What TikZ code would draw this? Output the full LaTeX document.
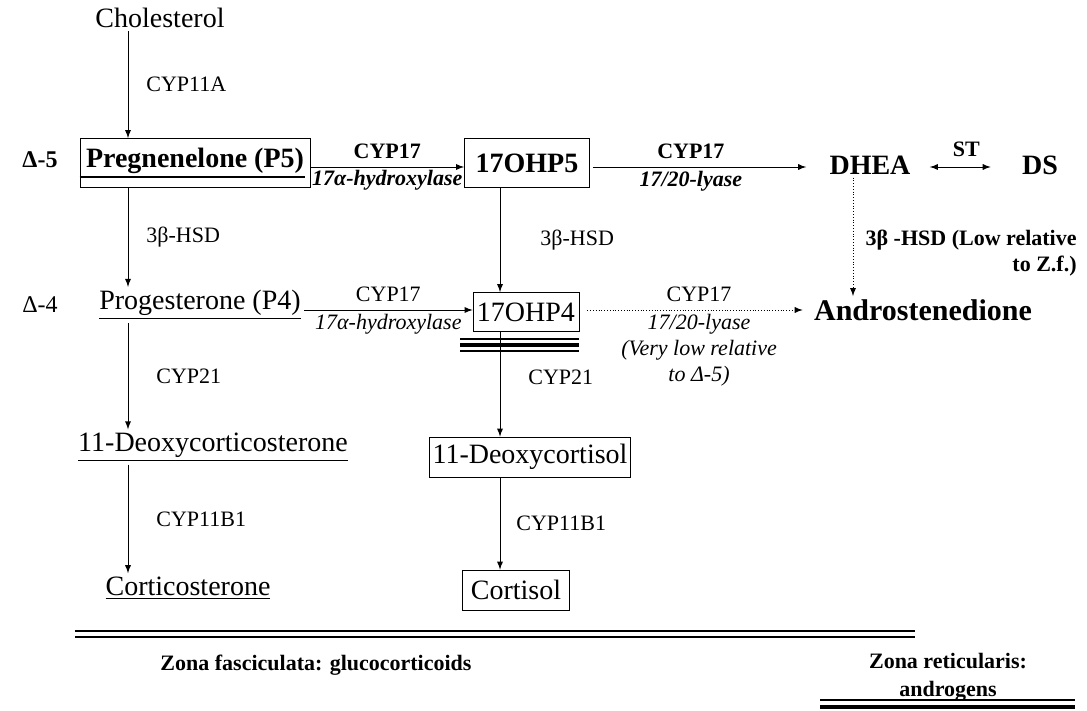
\documentclass[tikz,border=0pt]{standalone}
\usepackage{fontspec}
\setmainfont{Liberation Serif}
\usetikzlibrary{calc,positioning}

\tikzset{
  mol/.style={font=\fontsize{14}{16}\selectfont, inner sep=1.5pt},
  molb/.style={font=\fontsize{14}{16}\selectfont\bfseries, inner sep=1.5pt},
  enz/.style={font=\fontsize{11}{13}\selectfont, inner sep=1pt},
  enzb/.style={font=\fontsize{11}{13}\selectfont\bfseries, inner sep=1pt},
  conv/.style={-latex, thin},
  weak/.style={-latex, thin, densely dotted},
  zone/.style={font=\fontsize{11}{14}\selectfont\bfseries, align=center}
}

\begin{document}
\begin{tikzpicture}[x=0.5pt,y=-0.5pt]
\useasboundingbox (0,0) rectangle (1087,711);

\coordinate (c1) at (128,0);
\coordinate (c2) at (500,0);
\coordinate (c3) at (853,0);
\coordinate (r1) at (0,167);
\coordinate (r2) at (0,310);

\node[mol] (chol) at (160,18) {Cholesterol};
\node[molb, font=\fontsize{12}{14}\selectfont\bfseries] (d5) at (40,160) {Δ-5};
\node[mol, font=\fontsize{12}{14}\selectfont] (d4) at (40,305) {Δ-4};

\node[molb, draw, minimum width=115pt, minimum height=24.5pt] (p5) at (195,163) {\underline{Pregnenelone (P5)}};
\draw[line width=1pt] ([yshift=-7pt]p5.west) -- ([yshift=-7pt,xshift=-2.5pt]p5.east);
\node[molb, draw, minimum width=62.5pt, minimum height=24.5pt] (ohp5) at (527,163) {17OHP5};
\node[molb] (dhea) at (870,165) {DHEA};
\node[molb] (ds) at (1040,165) {DS};

\node[mol] (p4) at (200,305) {\underline{Progesterone (P4)}};
\node[mol, draw, minimum width=53pt, minimum height=19.5pt, inner sep=0.5pt] (ohp4) at (526,312) {17OHP4};
\node[molb, font=\fontsize{15}{17}\selectfont\bfseries] (andro) at (923,310) {Androstenedione};

\node[mol] (doc) at (213,447) {\underline{11-Deoxycorticosterone}};
\node[mol, draw, minimum width=67.5pt, minimum height=20pt] (dcl) at (530,457) {11-Deoxycortisol};

\node[mol] (cort) at (188,588) {\underline{Corticosterone}};
\node[mol, draw, minimum width=53.5pt, minimum height=20pt] (csol) at (516,590) {Cortisol};

\draw[conv] (chol.south -| c1) -- node[enz, midway, right=8pt] {CYP11A} (p5.north -| c1);

\draw[conv] (p5.east |- r1) -- node[enzb, midway, above=3pt] {CYP17}
  node[enzb, midway, below=0.5pt] {\itshape 17α-hydroxylase} (ohp5.west |- r1);
\draw[conv, shorten >=10pt] (ohp5.east |- r1) ++(3,0) -- node[enzb, pos=0.42, above=3pt] {CYP17}
  node[enzb, pos=0.42, below=1pt] {\itshape 17/20-lyase} (dhea.west |- r1);
\draw[latex-latex, thin, shorten <=8pt, shorten >=14pt] (dhea.east |- r1) -- node[enzb, midway, above=4pt] {ST} (ds.west |- r1);

\draw[conv] (p5.south -| c1) -- node[enz, midway, right=8pt] {3β-HSD} (p4.north -| c1);
\draw[conv] (ohp5.south -| c2) -- node[enz, midway, right=19pt] {3β-HSD} (ohp4.north -| c2);
\draw[weak] (dhea.south -| c3) -- (andro.north -| c3);
\node[enzb, anchor=north east, align=right] (hsdlow) at (1079,228) {3β -HSD (Low relative\\to Z.f.)};

\draw[conv] (p4.east |- r2) -- node[enz, midway, above=3pt] {CYP17}
  node[enz, midway, below=1pt] {\itshape 17α-hydroxylase} (ohp4.west |- r2);
\draw[weak, shorten >=4pt] (ohp4.east |- r2) ++(8,0) -- node[enz, midway, above=3pt] {CYP17}
  node[enz, midway, below=1pt, align=center] {\itshape 17/20-lyase\\\itshape (Very low relative\\\itshape to Δ-5)} (andro.west |- r2);
\foreach \yy/\lw in {339/0.7pt, 345/1.6pt, 351/1.3pt}
  \draw[line width=\lw] (460,\yy) -- (579,\yy);

\draw[conv] (p4.south -| c1) -- node[enz, midway, right=13pt] {CYP21} (doc.north -| c1);
\draw[conv] (ohp4.south -| c2) -- node[enz, pos=0.43, right=13pt] {CYP21} (dcl.north -| c2);

\draw[conv] (doc.south -| c1) -- node[enz, midway, right=13pt] {CYP11B1} (cort.north -| c1);
\draw[conv] (dcl.south -| c2) -- node[enz, midway, right=7pt] {CYP11B1} (csol.north -| c2);

\draw[line width=1pt] (75,631) -- (915,631);
\draw[line width=1pt] (75,637) -- (915,637);
\node[zone] (zf) at (316,665) {Zona fasciculata: glucocorticoids};
\node[zone] (zr) at (948,677) {Zona reticularis:\\androgens};
\draw[line width=1pt] (820,700) -- (1075,700);
\draw[line width=1.6pt] (820,707) -- (1075,707);

\end{tikzpicture}
\end{document}
